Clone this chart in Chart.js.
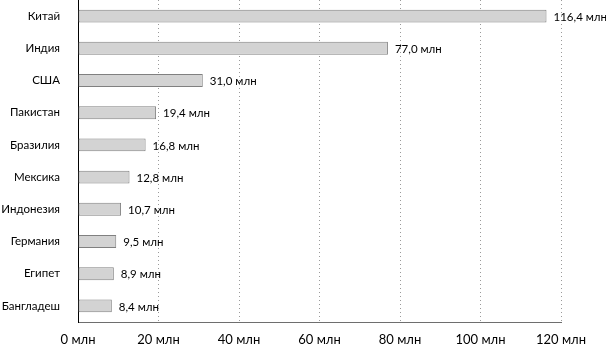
<!DOCTYPE html>
<html>
<head>
<meta charset="utf-8">
<script src="https://cdn.jsdelivr.net/npm/chart.js@4"></script>
<style>
  html, body { margin: 0; padding: 0; background: #fff; }
  #wrap { width: 606px; height: 352px; }
</style>
</head>
<body>
<div id="wrap"><canvas id="grafico"></canvas></div>
<script>
// Данные
const strany = ['Китай', 'Индия', 'США', 'Пакистан', 'Бразилия', 'Мексика', 'Индонезия', 'Германия', 'Египет', 'Бангладеш'];
const znacheniya = [116.4, 77.0, 31.0, 19.4, 16.8, 12.8, 10.7, 9.5, 8.9, 8.4];
const shkala = [0, 20, 40, 60, 80, 100, 120];

const shrift = 'Lato, sans-serif';
const fmt = v => v.toFixed(1).replace('.', ',') + ' млн';

// подписи у концов столбцов
const podpisi = {
    id: 'podpisi',
    afterDatasetsDraw(chart) {
        const ctx = chart.ctx;
        const meta = chart.getDatasetMeta(0);
        ctx.save();
        ctx.font = '11.5px ' + shrift;
        ctx.fillStyle = '#000';
        ctx.textBaseline = 'middle';
        ctx.textAlign = 'left';
        meta.data.forEach((bar, i) => {
            ctx.fillText(fmt(znacheniya[i]), bar.x + 7, bar.y + 1);
        });
        ctx.restore();
    }
};

new Chart(document.getElementById('grafico'), {
    type: 'bar',
    data: {
        labels: strany,
        datasets: [{
            data: znacheniya,
            backgroundColor: '#d3d3d3',
            borderColor: '#808080',
            borderWidth: 1,
            borderSkipped: false,
            categoryPercentage: 1,
            barPercentage: 0.4
        }]
    },
    options: {
        indexAxis: 'y',
        responsive: true,
        maintainAspectRatio: false,
        animation: false,
        layout: { padding: { top: 0, right: 45, left: 0, bottom: 0 } },
        plugins: { legend: { display: false }, tooltip: { enabled: false } },
        scales: {
            x: {
                min: shkala[0],
                max: shkala[shkala.length - 1],
                afterBuildTicks: s => { s.ticks = shkala.map(v => ({ value: v })); },
                afterFit: s => { s.height = 30; },
                grid: { color: '#9a9a9a', drawTicks: false, lineWidth: 1 },
                border: { color: '#6e6e6e', dash: [1, 3] },
                ticks: {
                    color: '#000',
                    font: { family: shrift, size: 13 },
                    padding: 10,
                    maxRotation: 0,
                    minRotation: 0,
                    callback: v => v + ' млн'
                }
            },
            y: {
                // ширина подписей фиксированная, без лишних отступов сверху
                afterFit: s => { s.width = 78; s.paddingTop = 0; s.paddingBottom = 0; },
                grid: { display: false, drawTicks: false },
                border: { color: '#000', width: 1 },
                ticks: {
                    color: '#000',
                    font: { family: shrift, size: 11.5 },
                    padding: 18,
                    autoSkip: false
                }
            }
        }
    },
    plugins: [podpisi]
});
</script>
</body>
</html>
